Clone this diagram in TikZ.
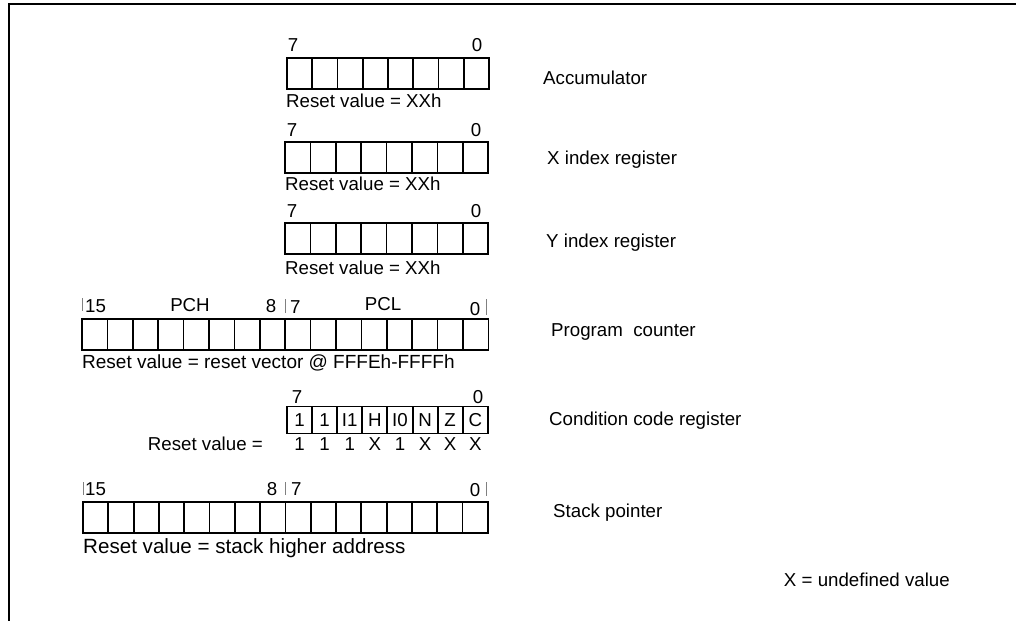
\documentclass[tikz,border=0pt]{standalone}
\usepackage{fontspec}
\setmainfont{Liberation Sans}
\begin{document}
\begin{tikzpicture}[x=1pt,y=-1pt,
  every node/.style={font=\fontsize{18.7}{22}\selectfont, inner sep=0pt},
  cell/.style={draw, line width=1.7pt, minimum width=25.4pt, minimum height=31pt, anchor=center},
  ccell/.style={cell, minimum height=27pt},
  lbl/.style={anchor=center},
  txt/.style={anchor=west},
  tick/.style={draw=gray, line width=1pt},
  frame/.style={line width=1.5pt}]
\useasboundingbox (0,0) rectangle (1016,621);
\coordinate (ftr) at (1016,4);
\coordinate (fcorner) at (9,4);
\coordinate (fbl) at (9,621);
\draw[frame] (ftr) -- (fcorner) -- (fbl);

% Accumulator
\foreach \i in {0,...,7} \node[cell] (acc\i) at ({287+25.25*(\i+0.5)},73.5) {};
\node[lbl] (acc7) at (293,45) {7};
\node[lbl] (acc0) at (477,45) {0};
\node[txt] (accr) at (286,101) {Reset value = XXh};
\node[txt] (accn) at (543,78) {Accumulator};

% X index
\foreach \i in {0,...,7} \node[cell] (x\i) at ({285+25.4*(\i+0.5)},157.5) {};
\node[lbl] (x7) at (292,130) {7};
\node[lbl] (x0) at (476,130) {0};
\node[txt] (xr) at (285,184) {Reset value = XXh};
\node[txt] (xn) at (547,160) {X index register};

% Y index
\foreach \i in {0,...,7} \node[cell] (y\i) at ({285+25.4*(\i+0.5)},238.5) {};
\node[lbl] (y7) at (292,211) {7};
\node[lbl] (y0) at (476,211) {0};
\node[txt] (yr) at (285,268) {Reset value = XXh};
\node[txt] (yn) at (546,243) {Y index register};

% Program counter
\foreach \i in {0,...,15} \node[cell] (pc\i) at ({82+25.4*(\i+0.5)},334.5) {};
\coordinate (pct1a) at (82,298); \coordinate (pct1b) at (82,311);
\coordinate (pct2a) at (285,299); \coordinate (pct2b) at (285,313);
\coordinate (pct3a) at (486,299); \coordinate (pct3b) at (486,315);
\draw[tick] (pct1a) -- (pct1b);
\draw[tick] (pct2a) -- (pct2b);
\draw[tick] (pct3a) -- (pct3b);
\node[txt] (pc15) at (85,306) {15};
\node[lbl] (pch) at (190,305) {PCH};
\node[lbl] (pc8) at (271,306) {8};
\node[txt] (pc7) at (290,307) {7};
\node[lbl] (pcl) at (383,304) {PCL};
\node[lbl] (pc0) at (475,309) {0};
\node[txt,font=\fontsize{19}{22}\selectfont] (pcr) at (82,363) {Reset value = reset vector @ FFFEh-FFFFh};
\node[txt] (pcn) at (551,332) {Program\ \ counter};

% Condition code register
\foreach \t [count=\i from 0] in {1,1,I1,H,I0,N,Z,C}
  \node[ccell] (cc\i) at ({287+25.1*(\i+0.5)},420) {\t};
\foreach \t [count=\i from 0] in {1,1,1,X,1,X,X,X}
  \node[lbl] (ccv\i) at ({287+25.1*(\i+0.5)},444) {\t};
\node[lbl] (cc7) at (297,397) {7};
\node[lbl] (cc0) at (478,397) {0};
\node[anchor=east] (ccr) at (263,444) {Reset value =};
\node[txt] (ccn) at (549,421) {Condition code register};

% Stack pointer
\foreach \i in {0,...,15} \node[cell] (sp\i) at ({83+25.3*(\i+0.5)},517.5) {};
\coordinate (spt1a) at (83,482); \coordinate (spt1b) at (83,495);
\coordinate (spt2a) at (285,482); \coordinate (spt2b) at (285,495);
\coordinate (spt3a) at (486,482); \coordinate (spt3b) at (486,496);
\draw[tick] (spt1a) -- (spt1b);
\draw[tick] (spt2a) -- (spt2b);
\draw[tick] (spt3a) -- (spt3b);
\node[txt] (sp15) at (85,489) {15};
\node[lbl] (sp8) at (272,489) {8};
\node[txt] (sp7) at (291,489) {7};
\node[lbl] (sp0) at (475,490) {0};
\node[txt,font=\fontsize{20.6}{24}\selectfont] (spr) at (83,548) {Reset value = stack higher address};
\node[txt] (spn) at (553,513) {Stack pointer};

\node[anchor=east] (undef) at (950,580) {X = undefined value};
\end{tikzpicture}
\end{document}
